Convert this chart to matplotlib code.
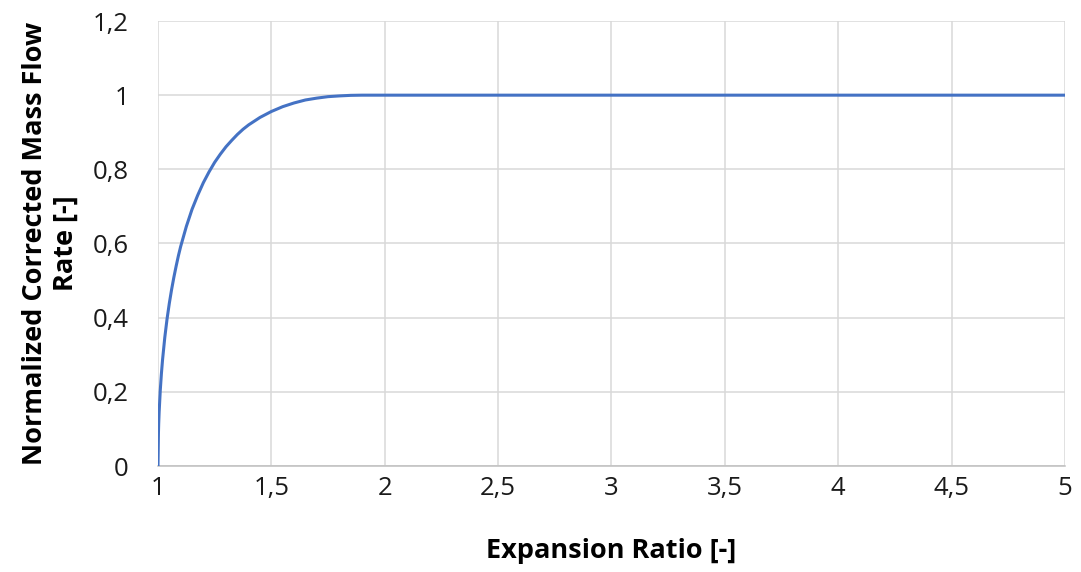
import matplotlib
matplotlib.use("Agg")
import matplotlib.pyplot as plt

# Data
expansion_ratio = [1.0, 1.002, 1.003, 1.005, 1.01, 1.015, 1.02, 1.03, 1.04, 1.05, 1.06,
                   1.07, 1.08, 1.09, 1.10, 1.125, 1.15, 1.175, 1.20, 1.225, 1.25,
                   1.275, 1.30, 1.325, 1.35, 1.375, 1.40, 1.45, 1.50, 1.55, 1.60,
                   1.65, 1.70, 1.75, 1.80, 1.85, 1.90, 2.0,
                   2.5, 3.0, 3.5, 4.0, 4.5, 5.0]
mass_flow = [0.0, 0.09, 0.113, 0.145, 0.204, 0.249, 0.286, 0.347, 0.397, 0.439, 0.476,
             0.509, 0.539, 0.567, 0.592, 0.646, 0.692, 0.730, 0.764, 0.793, 0.819,
             0.841, 0.861, 0.878, 0.894, 0.908, 0.920, 0.940, 0.956, 0.969, 0.979,
             0.987, 0.992, 0.996, 0.998, 0.9995, 1.0, 1.0,
             1.0, 1.0, 1.0, 1.0, 1.0, 1.0]
x_ticks = [1, 1.5, 2, 2.5, 3, 3.5, 4, 4.5, 5]
x_tick_labels = ["1", "1,5", "2", "2,5", "3", "3,5", "4", "4,5", "5"]
y_ticks = [0, 0.2, 0.4, 0.6, 0.8, 1.0, 1.2]
y_tick_labels = ["0", "0,2", "0,4", "0,6", "0,8", "1", "1,2"]

plt.rcParams['font.family'] = ['Open Sans', 'DejaVu Sans']

fig = plt.figure(figsize=(10.81, 5.72), dpi=100)
ax = fig.add_axes([158 / 1081, (572 - 466) / 572, (1065 - 158) / 1081, (466 - 21) / 572])

ax.plot(expansion_ratio, mass_flow, color="#4472C4", linewidth=2.2, zorder=3,
        solid_joinstyle="round")

ax.set_xlim(1, 5)
ax.set_ylim(0, 1.2)
ax.set_xticks(x_ticks)
ax.set_xticklabels(x_tick_labels)
ax.set_yticks(y_ticks)
ax.set_yticklabels(y_tick_labels)

ax.grid(True, color="#d9d9d9", linewidth=1.1, zorder=0)
ax.set_axisbelow(True)
for s in ["top", "right", "left"]:
    ax.spines[s].set_visible(False)
ax.spines["bottom"].set_color("#bfbfbf")
ax.spines["bottom"].set_linewidth(1.1)

ax.tick_params(axis="both", length=0, labelsize=18.5, colors="#1a1a1a")
ax.tick_params(axis="y", pad=21)
ax.tick_params(axis="x", pad=7)

ax.set_xlabel("Expansion Ratio [-]", fontsize=19.5, fontweight="bold", labelpad=27)
ax.set_ylabel("Normalized Corrected Mass Flow\nRate [-]", fontsize=19.5,
              fontweight="bold", labelpad=10, linespacing=1.25)

fig.savefig("out.png", dpi=100, facecolor="white")
